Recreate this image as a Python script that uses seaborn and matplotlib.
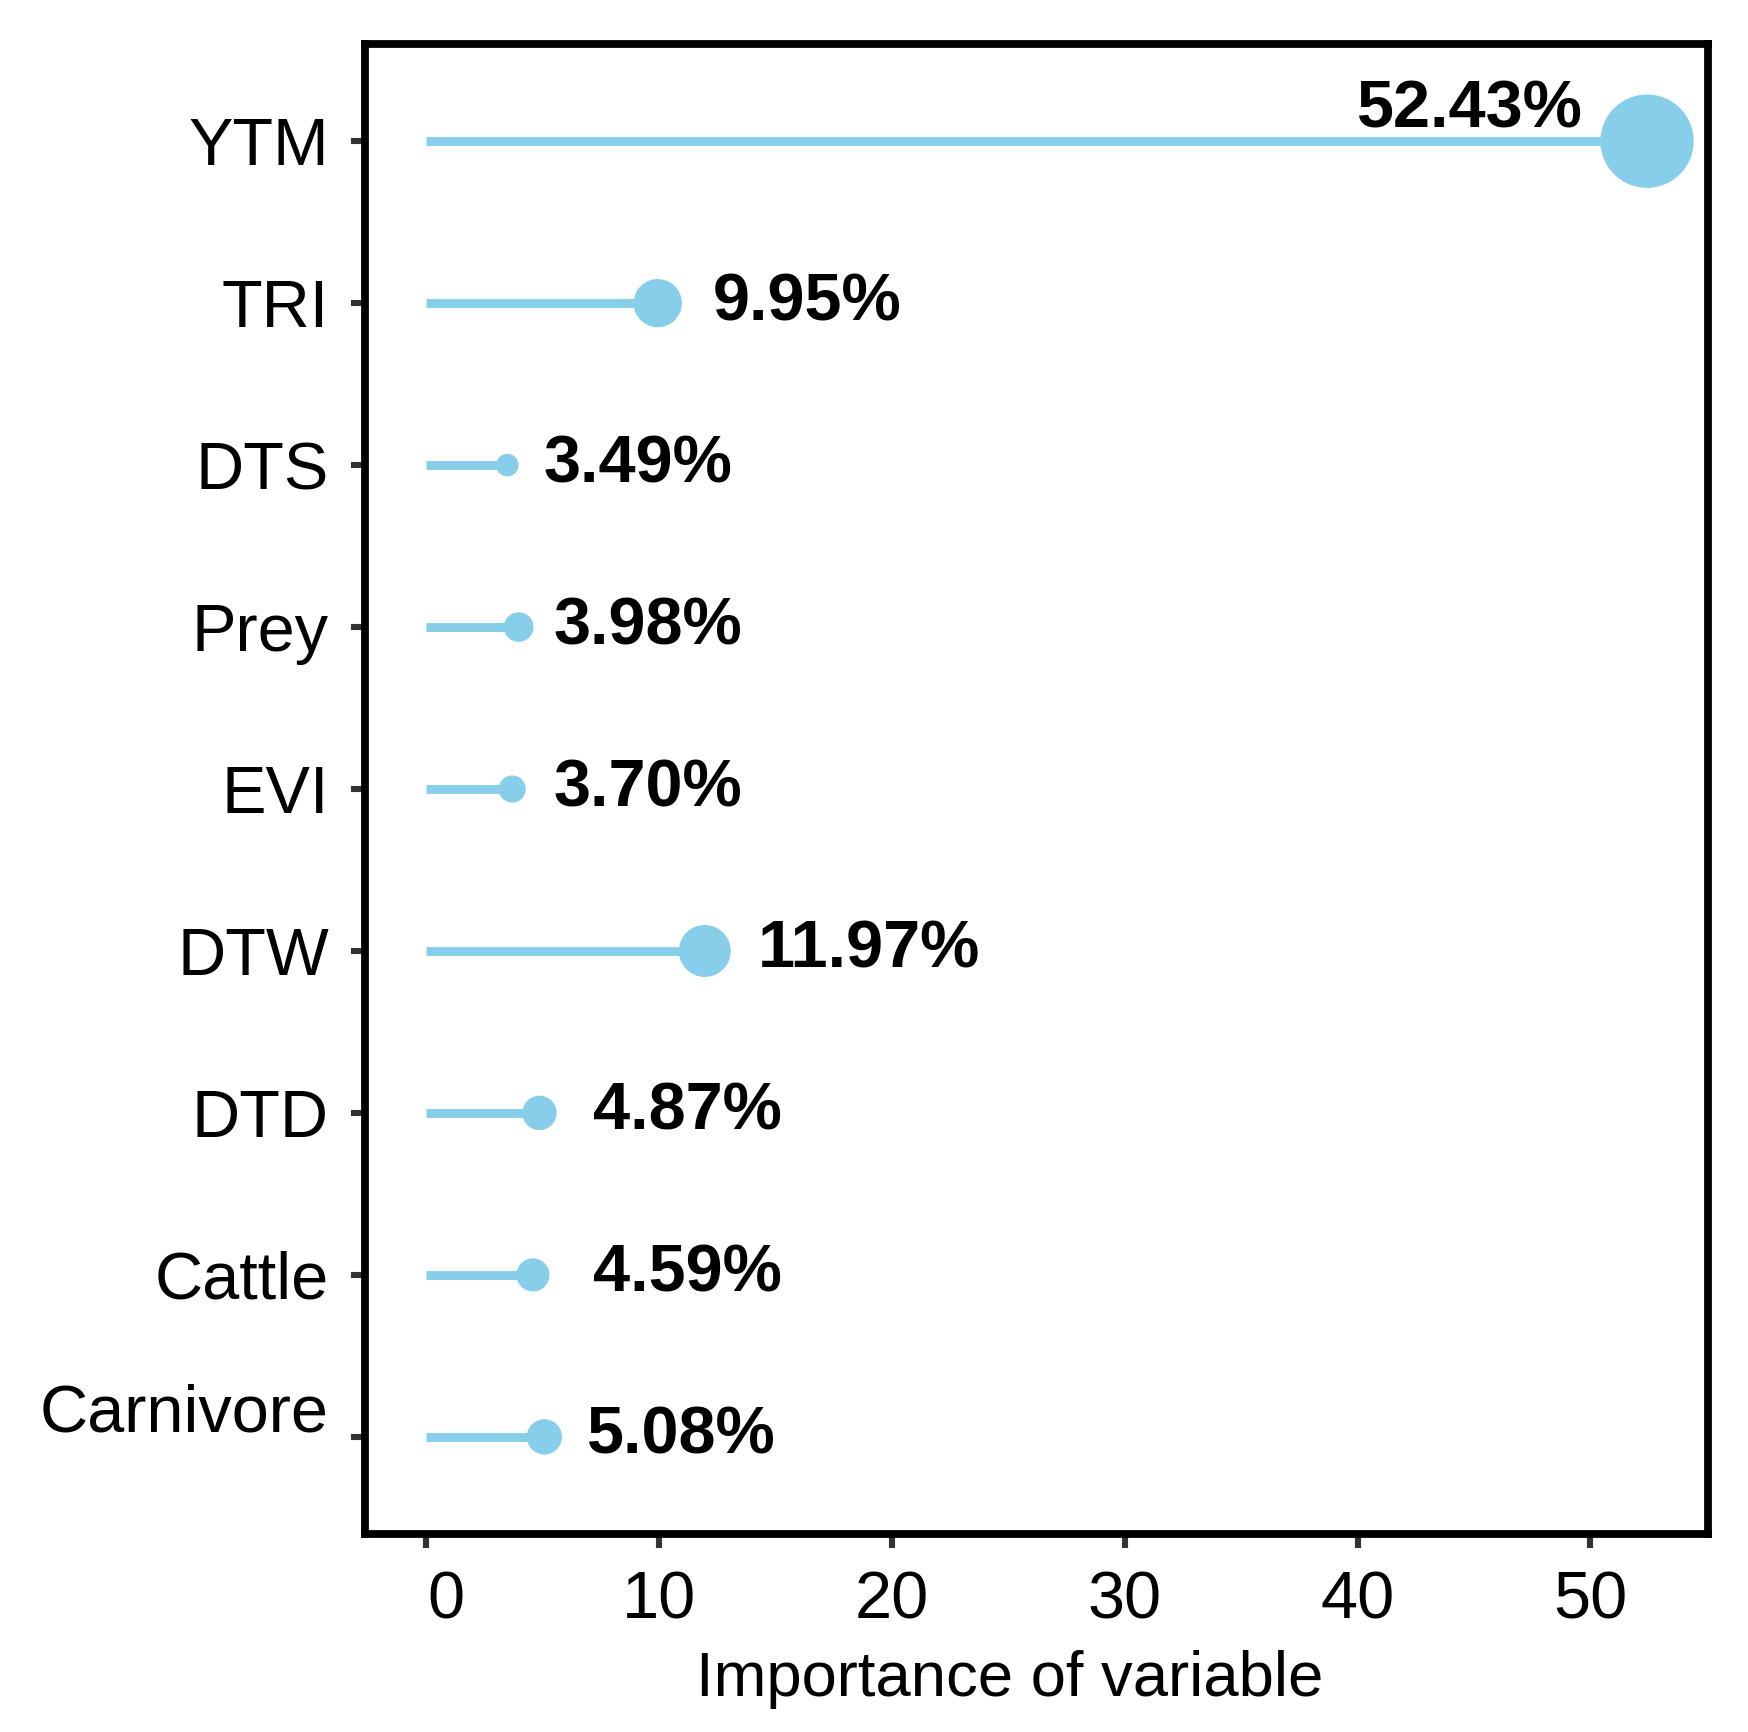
import numpy as np
import pandas as pd
import matplotlib
matplotlib.use("Agg")
import matplotlib.pyplot as plt
import matplotlib.transforms as mtransforms
import seaborn as sns

# Variable importance values (%)
variables = ['YTM', 'TRI', 'DTS', 'Prey', 'EVI', 'DTW', 'DTD', 'Cattle', 'Carnivore']
importance = [52.43, 9.95, 3.49, 3.98, 3.70, 11.97, 4.87, 4.59, 5.08]
value_labels = ['52.43%', '9.95%', '3.49%', '3.98%', '3.70%', '11.97%', '4.87%', '4.59%', '5.08%']
x_ticks = [0, 10, 20, 30, 40, 50]

# label placement (data units, relative to the point)
label_nudge = [-2.77, 2.38, 1.56, 1.51, 1.79, 2.29, 2.29, 2.57, 1.85]

df = pd.DataFrame({'variable': variables, 'importance': importance})

sns.set_style("ticks")
plt.rcParams['font.family'] = ['Liberation Sans', 'DejaVu Sans']

point_color = '#87CEEB'

# ggplot-like area scale: diameter grows with sqrt of rescaled value
d_min, d_max = 8.1, 33.6
v_min, v_max = min(importance), max(importance)
size_map = {v: (d_min + (d_max - d_min) * np.sqrt((v - v_min) / (v_max - v_min))) ** 2
            for v in importance}

fig = plt.figure(figsize=(1749 / 200, 1732 / 200), dpi=200)
ax = fig.add_axes([0.2087, 0.1143, 0.9766 - 0.2087, 0.9746 - 0.1143])

sns.scatterplot(data=df, x='importance', y='variable', size='importance',
                sizes=size_map, color=point_color, linewidth=0, legend=False,
                ax=ax, zorder=3)
ax.hlines(y=df['variable'], xmin=0, xmax=df['importance'], color=point_color,
          linewidth=3.2, zorder=1)

for i, (v, lab, nud) in enumerate(zip(importance, value_labels, label_nudge)):
    if nud < 0:
        ax.text(v + nud, i, lab, ha='right', va='bottom', fontsize=24,
                fontweight='bold', color='black')
    else:
        ax.text(v + nud, i, lab, ha='left', va='center', fontsize=24,
                fontweight='bold', color='black')

ax.set_xlim(-2.62, 55.05)
ax.set_ylim(len(variables) - 0.4, -0.6)
ax.set_xticks(x_ticks)
ax.set_yticks(range(len(variables)))
ax.set_yticklabels(variables)

for side in ['left', 'right', 'top', 'bottom']:
    ax.spines[side].set_linewidth(2.8)
    ax.spines[side].set_color('black')

ax.tick_params(axis='both', which='major', length=5, width=2.2, color='#333333',
               labelsize=24, labelcolor='black', pad=8)
ax.set_xlabel('Importance of variable', fontsize=22.8, color='black', labelpad=7)
ax.xaxis.set_label_coords(0.48, -0.078)
ax.xaxis.label.set_va('top')
ax.set_ylabel('')

# small manual shifts of a couple of tick labels, like the original
for lab in ax.get_yticklabels():
    if lab.get_text() == 'Carnivore':
        lab.set_transform(lab.get_transform() +
                          mtransforms.ScaledTranslation(0, 10.4 / 72, fig.dpi_scale_trans))
for lab in ax.get_xticklabels():
    if lab.get_text() == '0':
        lab.set_transform(lab.get_transform() +
                          mtransforms.ScaledTranslation(7 / 72, 0, fig.dpi_scale_trans))

fig.savefig('out.png', dpi=200)
plt.close(fig)
